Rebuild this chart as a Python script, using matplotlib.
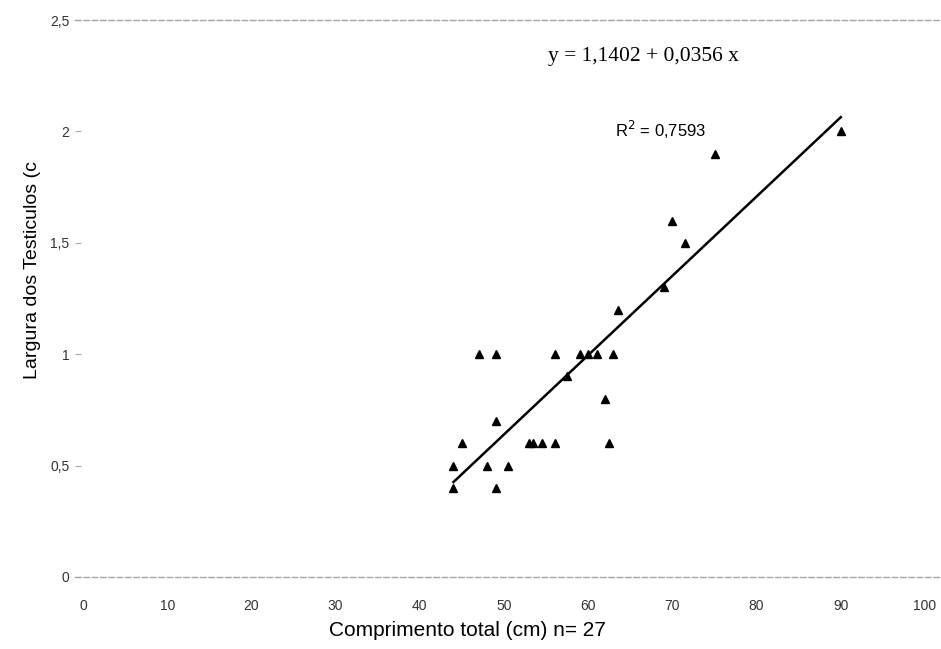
import numpy as np
import matplotlib
matplotlib.use("Agg")
import matplotlib.pyplot as plt

## Dados
comprimento = [90, 75, 70, 71.5, 69, 63.5,
               47, 49, 56, 59, 60, 61, 63,
               57.5, 62, 49,
               45, 53, 53.5, 54.5, 56, 62.5,
               44, 48, 50.5,
               44, 49]
largura = [2.0, 1.9, 1.6, 1.5, 1.3, 1.2,
           1.0, 1.0, 1.0, 1.0, 1.0, 1.0, 1.0,
           0.9, 0.8, 0.7,
           0.6, 0.6, 0.6, 0.6, 0.6, 0.6,
           0.5, 0.5, 0.5,
           0.4, 0.4]
intercepto = -1.1402
inclinacao = 0.0356
x_ticks = [0, 10, 20, 30, 40, 50, 60, 70, 80, 90, 100]
y_ticks = [0, 0.5, 1, 1.5, 2, 2.5]
y_labels = ["0", "0,5", "1", "1,5", "2", "2,5"]

## Figura
fig = plt.figure(figsize=(9.41, 6.49), dpi=100)
ax = fig.add_axes([75 / 941, 1 - 577 / 649, (941 - 75) / 941, 557 / 649])

ax.plot(comprimento, largura, "k^", markersize=6)

xl = np.array([min(comprimento), max(comprimento)])
ax.plot(xl, intercepto + inclinacao * xl, "k-", lw=1.8)

ax.set_xlim(-0.95, 101.9)
ax.set_ylim(0, 2.5)

for s in ["left", "right"]:
    ax.spines[s].set_visible(False)
for s in ["top", "bottom"]:
    ax.spines[s].set_color("#a5a5a5")
    ax.spines[s].set_linestyle((0, (4, 2)))
    ax.spines[s].set_linewidth(1)

ax.set_xticks(x_ticks)
ax.set_xticklabels([str(t) for t in x_ticks], fontsize=10, family="Liberation Sans", color="#333333")
ax.tick_params(axis="x", length=0, pad=16)
ax.set_yticks(y_ticks)
ax.set_yticklabels(y_labels, fontsize=10, family="Liberation Sans", color="#333333")
ax.tick_params(axis="y", length=4, color="#aaaaaa", direction="in", pad=4)

fig.text(467 / 941, 1 - 630 / 649, "Comprimento total (cm) n= 27", ha="center", va="center",
         fontsize=15, family="Liberation Sans")
fig.text(33 / 941, 1 - 270 / 649, "Largura dos Testiculos (c", rotation=90, ha="center", va="center",
         fontsize=14, family="Liberation Sans")

fig.text(548 / 941, 1 - 56 / 649, "y = 1,1402 + 0,0356 x", ha="left", va="center",
         fontsize=15.5, family="Liberation Serif")
fig.text(615 / 941, 1 - 130 / 649, "R$^2$ = 0,7593", ha="left", va="center",
         fontsize=12, family="Liberation Sans")

fig.savefig("out.png", dpi=100)
